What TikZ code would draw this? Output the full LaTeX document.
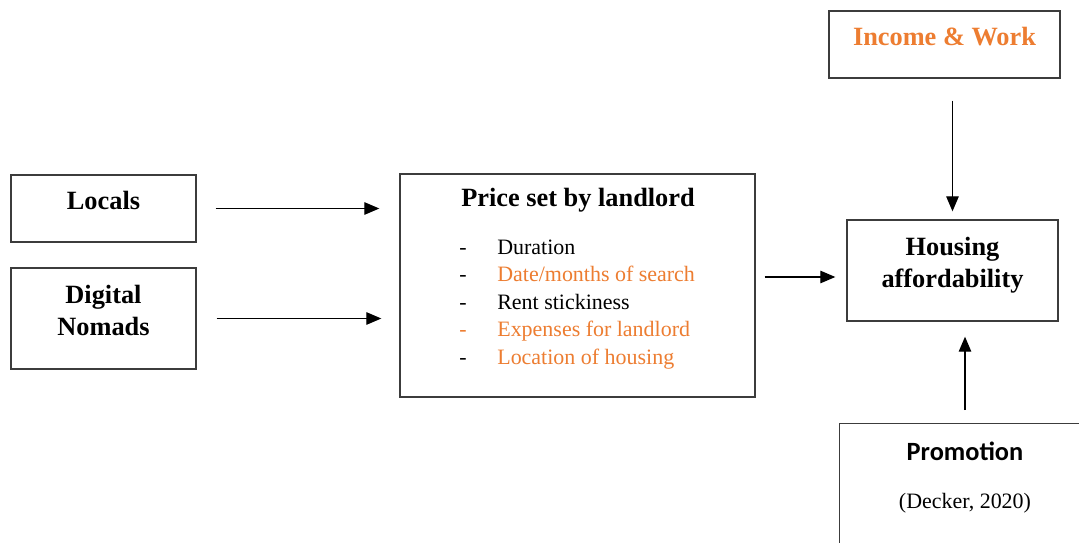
\documentclass[tikz,border=0pt]{standalone}
\usepackage{fontspec}
\setmainfont{Liberation Serif}
\newfontfamily\promofont{Carlito}
\usetikzlibrary{positioning,arrows.meta}
\definecolor{accent}{HTML}{ED7D31}
\definecolor{framegray}{RGB}{60,60,60}
\tikzset{
  factor/.style={draw=framegray,line width=0.8pt,align=center,font=\fontsize{15}{18.5}\selectfont\bfseries,text depth=9pt,inner sep=2pt},
  item/.style={font=\fontsize{12.5}{15.6}\selectfont,align=left,inner sep=0pt},
  link/.style={-{Triangle[length=3mm,width=2.5mm]},line width=0.7pt,draw=black}
}
\begin{document}
\begin{tikzpicture}[x=0.02cm,y=-0.02cm]
\clip (0,0) rectangle (1079,542);
\fill[white] (0,0) rectangle (1079,542);

\node[factor,minimum width=3.7cm,minimum height=1.34cm] (locals) at (103.5,208.5) {Locals};
\node[factor,minimum width=3.7cm,minimum height=2.02cm] (nomads) at (103.5,318.5) {Digital\\Nomads};

\node[factor,minimum width=7.1cm,minimum height=4.46cm] (price) at (577.5,285.5) {};
\node[font=\fontsize{15}{18}\selectfont\bfseries] (pricetitle) at (578,200) {Price set by landlord};
\node[item,anchor=north west] (pricelist) at (459,235) {%
  \begin{tabular}{@{}p{0.76cm}@{}l@{}}
  - & Duration\\
  - & \textcolor{accent}{Date/months of search}\\
  - & Rent stickiness\\
  \textcolor{accent}{-} & \textcolor{accent}{Expenses for landlord}\\
  - & \textcolor{accent}{Location of housing}
  \end{tabular}};

\node[factor,text=accent,minimum width=4.62cm,minimum height=1.34cm] (income) at (944.5,44.5) {Income \& Work};
\node[factor,minimum width=4.22cm,minimum height=2.02cm] (housing) at (952.5,270.5) {Housing\\affordability};

% promotion box runs off the page
\node[factor,anchor=north west,minimum width=5.2cm,minimum height=3cm] (promo) at (839,423) {};
\node[font=\promofont\fontsize{15}{18}\selectfont\bfseries] (promotitle) at (965,451) {Promotion};
\node[font=\fontsize{12.5}{15}\selectfont] (promoref) at (965,503) {(Decker, 2020)};

\coordinate (pricemid) at ([yshift=-0.13cm]housing.west);
\draw[link,shorten <=0.38cm,shorten >=0.4cm] (locals.east) -- (locals.east -| price.west);
\draw[link,shorten <=0.4cm,shorten >=0.36cm] (nomads.east) -- (nomads.east -| price.west);
\draw[link,shorten <=0.18cm,shorten >=0.22cm] (pricemid -| price.east) -- (pricemid);
\draw[link,shorten <=0.44cm,shorten >=0.16cm] (income.south -| housing.north) -- (housing.north);
\draw[link,shorten <=0.26cm,shorten >=0.3cm] (promotitle.north |- promo.north) -- (promotitle.north |- housing.south);
\end{tikzpicture}
\end{document}
